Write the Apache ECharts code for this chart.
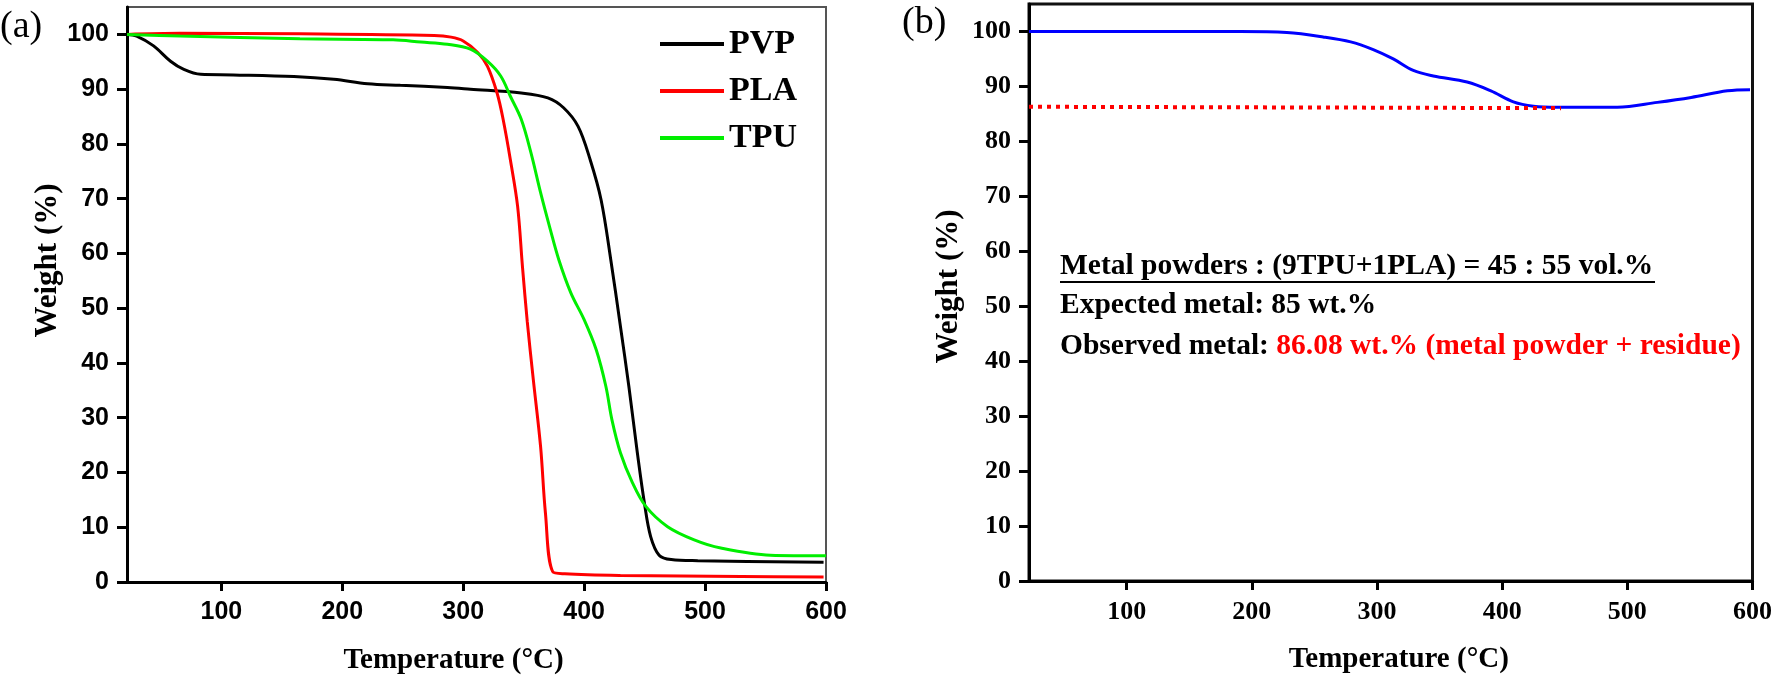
<!DOCTYPE html>
<html>
<head>
<meta charset="utf-8">
<script src="https://cdn.jsdelivr.net/npm/echarts@6/dist/echarts.min.js"></script>
<style>
html,body{margin:0;padding:0;background:#fff;}
#chart{width:1775px;height:682px;}
</style>
</head>
<body>
<div id="chart"></div>
<script>
// ---- Data ----
const xTicks = [100, 200, 300, 400, 500, 600];
const yTicks = [0, 10, 20, 30, 40, 50, 60, 70, 80, 90, 100];

const pvpT = [22, 30, 44, 58, 69, 83, 110, 160, 193, 221, 248, 287, 306, 348, 370, 383, 395, 405, 414, 422, 430, 437, 444, 450, 455, 462, 472, 494, 598];
const pvpW = [100, 99.7, 97.9, 95.1, 93.6, 92.7, 92.6, 92.3, 91.8, 91.0, 90.7, 90.3, 90.0, 89.3, 88.4, 86.6, 83.2, 77.1, 69.8, 58.9, 46.7, 35.7, 23.6, 14.2, 8.3, 4.9, 4.1, 3.9, 3.6];

const plaT = [22, 66, 165, 276, 290, 300, 312, 320, 328, 333, 339, 345, 349, 353, 358, 364, 368, 374, 384, 430, 530, 598];
const plaW = [100, 100.2, 100.1, 99.8, 99.5, 98.8, 96.7, 94.2, 89.3, 84.5, 77.1, 68.6, 57.6, 47.5, 36.9, 24.7, 12.6, 1.9, 1.5, 1.2, 1.0, 0.9];

const tpuT = [22, 66, 165, 242, 265, 287, 306, 320, 331, 339, 348, 356, 364, 372, 379, 389, 400, 410, 418, 423, 430, 440, 451, 469, 491, 513, 554, 600];
const tpuW = [100, 99.7, 99.2, 99.0, 98.6, 98.2, 97.3, 95.1, 92.4, 88.7, 84.5, 78.4, 71.1, 64.4, 58.9, 52.8, 47.9, 42.4, 35.7, 29.6, 23.6, 18.1, 13.8, 10.1, 7.7, 6.2, 4.9, 4.8];

const mixT = [22, 191, 228, 257, 279, 297, 313, 329, 345, 372, 391, 409, 425, 444, 492, 524, 551, 580, 598];
const mixW = [100, 100, 99.8, 99.0, 98.1, 96.7, 95.0, 92.9, 91.9, 90.8, 89.2, 87.2, 86.4, 86.2, 86.2, 87.1, 88.0, 89.2, 89.4];

const residueT = [22, 447];
const residueW = [86.3, 86.05];

const seriesNames = ['PVP', 'PLA', 'TPU'];

// ---- Build ----
const pairs = (xs, ys) => xs.map((x, i) => [x, ys[i]]);
const serif = '"Liberation Serif", "Times New Roman", serif';
const sans = '"Liberation Sans", Arial, sans-serif';

function xAxisCfg(gridIndex, fontFamily, fontSize, padding) {
  return {
    type: 'value', gridIndex, min: 22, max: 600,
    name: 'Temperature (°C)', nameLocation: 'middle', nameGap: 64,
    nameTextStyle: { fontFamily: serif, fontWeight: 'bold', fontSize: 29, color: '#000', padding },
    axisLine: { show: true, lineStyle: { color: '#000', width: 3 } },
    axisTick: { show: true, inside: false, length: 9, lineStyle: { color: '#000', width: 3 }, customValues: xTicks },
    axisLabel: { customValues: xTicks, margin: 18, fontFamily, fontWeight: 'bold', fontSize, color: '#000' },
    splitLine: { show: false }
  };
}
function yAxisCfg(gridIndex, fontFamily, fontSize, nameGap, padding) {
  return {
    type: 'value', gridIndex, min: 0, max: 105,
    name: 'Weight (%)', nameLocation: 'middle', nameGap,
    nameTextStyle: { fontFamily: serif, fontWeight: 'bold', fontSize: 31, color: '#000', padding },
    axisLine: { show: true, lineStyle: { color: '#000', width: 3 } },
    axisTick: { show: true, inside: false, length: 10, lineStyle: { color: '#000', width: 3 }, customValues: yTicks },
    axisLabel: { customValues: yTicks, margin: 18, fontFamily, fontWeight: 'bold', fontSize, color: '#000' },
    splitLine: { show: false }
  };
}

const chart = echarts.init(document.getElementById('chart'));
const lineBase = { type: 'line', showSymbol: false, symbol: 'none', smooth: 0.35, animation: false };

chart.setOption({
  backgroundColor: '#fff',
  animation: false,
  grid: [
    { left: 127, top: 7, width: 699, height: 575, show: true, borderColor: '#555', borderWidth: 2, backgroundColor: 'transparent' },
    { left: 1029, top: 4, width: 724, height: 577, show: true, borderColor: '#111', borderWidth: 3, backgroundColor: 'transparent' }
  ],
  xAxis: [
    xAxisCfg(0, sans, 25, [0, 46, 0, 0]),
    xAxisCfg(1, serif, 26, [0, 0, 0, 16])
  ],
  yAxis: [
    yAxisCfg(0, sans, 25, 61, [0, 0, 0, 68]),
    yAxisCfg(1, serif, 26, 65, [0, 0, 0, 12])
  ],
  legend: {
    left: 655, top: 21, orient: 'vertical', icon: 'rect',
    itemWidth: 64, itemHeight: 4, itemGap: 11,
    data: seriesNames,
    textStyle: { fontFamily: serif, fontWeight: 'bold', fontSize: 34, lineHeight: 36, color: '#000' }
  },
  series: [
    Object.assign({}, lineBase, { name: seriesNames[0], xAxisIndex: 0, yAxisIndex: 0, data: pairs(pvpT, pvpW), itemStyle: { color: '#000000' }, lineStyle: { color: '#000000', width: 3 } }),
    Object.assign({}, lineBase, { name: seriesNames[1], xAxisIndex: 0, yAxisIndex: 0, data: pairs(plaT, plaW), itemStyle: { color: '#ff0000' }, lineStyle: { color: '#ff0000', width: 3 } }),
    Object.assign({}, lineBase, { name: seriesNames[2], xAxisIndex: 0, yAxisIndex: 0, data: pairs(tpuT, tpuW), itemStyle: { color: '#00ee00' }, lineStyle: { color: '#00ee00', width: 3 } }),
    Object.assign({}, lineBase, { name: 'Mixture', xAxisIndex: 1, yAxisIndex: 1, data: pairs(mixT, mixW), itemStyle: { color: '#0000ff' }, lineStyle: { color: '#0000ff', width: 3 } }),
    Object.assign({}, lineBase, { name: 'Residue', smooth: false, xAxisIndex: 1, yAxisIndex: 1, data: pairs(residueT, residueW), z: 3, itemStyle: { color: '#ff0000' }, lineStyle: { color: '#ff0000', width: 4, type: [4, 5] } })
  ],
  graphic: [
    { type: 'text', left: 0, top: 8, style: { text: '(a)', font: 'normal 38px ' + serif, fill: '#000' } },
    { type: 'text', left: 902, top: 4, style: { text: '(b)', font: 'normal 38px ' + serif, fill: '#000' } },
    { type: 'text', left: 1060, top: 251, style: { text: 'Metal powders : (9TPU+1PLA) = 45 : 55 vol.%', font: 'bold 29.5px ' + serif, fill: '#000' } },
    { type: 'line', shape: { x1: 1060, y1: 282, x2: 1655, y2: 282 }, style: { stroke: '#000', lineWidth: 2 } },
    { type: 'text', left: 1060, top: 290, style: { text: 'Expected metal: 85 wt.%', font: 'bold 29.5px ' + serif, fill: '#000' } },
    { type: 'text', left: 1060, top: 331, style: {
        text: '{k|Observed metal: }{r|86.08 wt.% (metal powder + residue)}',
        rich: {
          k: { fontFamily: serif, fontWeight: 'bold', fontSize: 29.5, fill: '#000', color: '#000' },
          r: { fontFamily: serif, fontWeight: 'bold', fontSize: 29.5, fill: '#ff0000', color: '#ff0000' }
        }
      } }
  ]
});
</script>
</body>
</html>
